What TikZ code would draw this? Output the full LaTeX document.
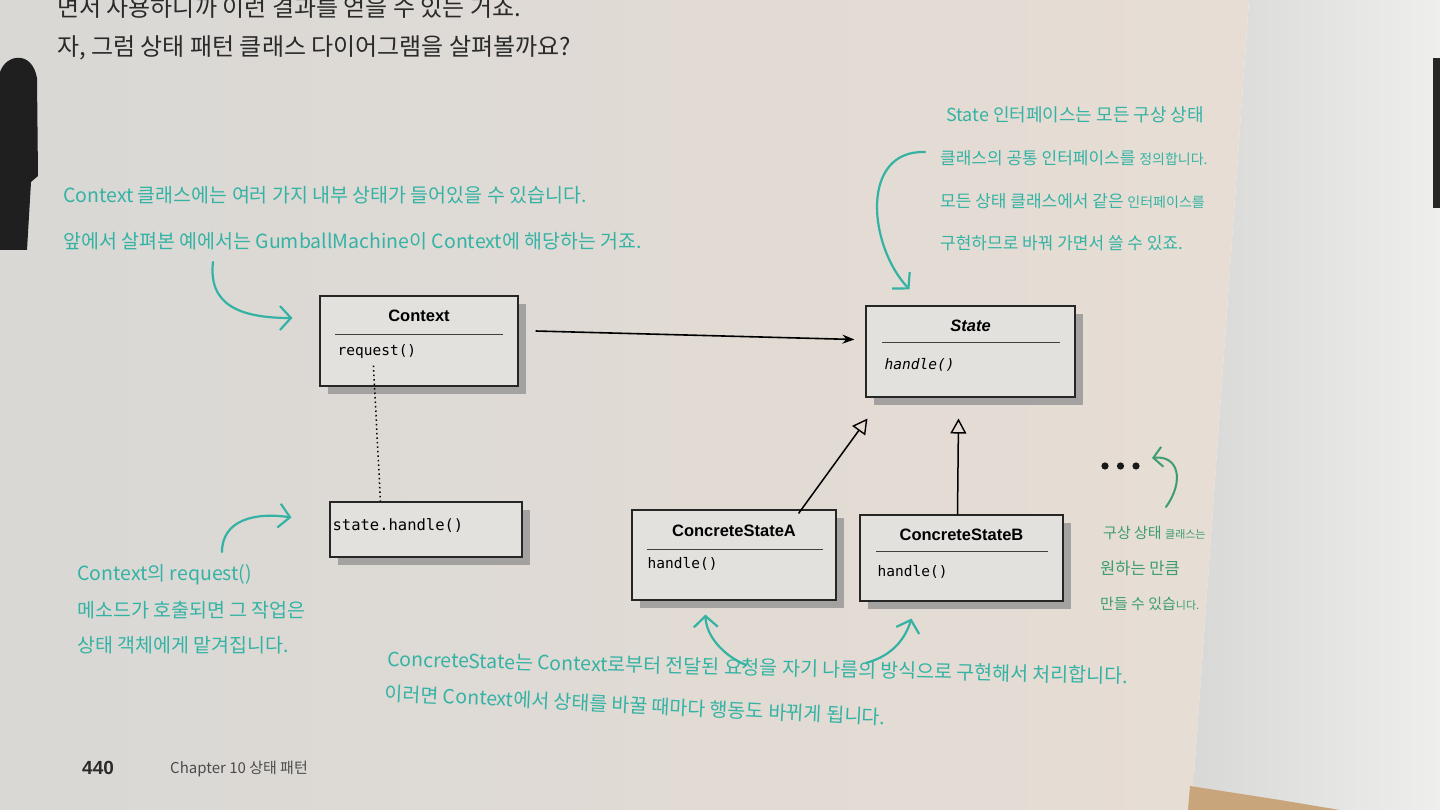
\documentclass[tikz,border=0pt]{standalone}
\usepackage{fontspec}
\setmainfont{Liberation Sans}
\newfontfamily\kr{Noto Sans CJK KR}
\newfontfamily\mono{DejaVu Sans Mono}
\usetikzlibrary{arrows.meta,shadows,calc}

\definecolor{pagegray}{HTML}{D9D8D5}
\definecolor{pagewarm}{HTML}{E7DDD4}
\definecolor{rightpage}{HTML}{EEEEEC}
\definecolor{spine}{HTML}{D8D8D6}
\definecolor{boxfill}{HTML}{E2E1DE}
\definecolor{shadowgray}{HTML}{A3A2A0}
\definecolor{inkteal}{HTML}{34B3A4}
\definecolor{inkgreen}{HTML}{3D9C74}
\definecolor{wood}{HTML}{C9A57C}
\definecolor{textdark}{HTML}{2A2A2A}

\newcommand{\smallhand}[1]{{\fontsize{14}{16}\selectfont #1}}

\tikzset{
  classbox/.style={draw=black!85, line width=1.1pt, fill=boxfill, inner sep=0pt,
    drop shadow={shadow xshift=8pt, shadow yshift=-8pt, fill=shadowgray, opacity=1}},
  classname/.style={font=\bfseries\fontsize{16.5}{18}\selectfont, inner sep=0pt},
  method/.style={font=\mono\fontsize{14.5}{16}\selectfont, anchor=west, inner sep=0pt},
  sepline/.style={draw=black!75, line width=0.8pt},
  assoc/.style={line width=1.6pt, -{Stealth[length=12pt,width=9pt]}},
  inherit/.style={line width=1.5pt, -{Triangle[open,length=15pt,width=16pt,line width=1.4pt]}, fill=boxfill},
  hand/.style={draw=inkteal, line width=2.2pt, line cap=round,
    -{Straight Barb[length=11pt,width=24pt,line width=2.2pt]}},
  note/.style={font=\kr\fontsize{19.5}{22}\selectfont, text=inkteal, anchor=west, inner sep=0pt},
  sidenote/.style={note, font=\kr\fontsize{17}{20}\selectfont},
  cornernote/.style={note, text=inkgreen, font=\kr\fontsize{15}{17}\selectfont},
  body/.style={font=\kr\fontsize{24}{28}\selectfont, text=textdark, anchor=west, inner sep=0pt},
}

\begin{document}
\begin{tikzpicture}[x=1pt,y=-1pt]
\useasboundingbox (0,0) rectangle (1440,810);
\clip (0,0) rectangle (1440,810);

% the open book: left page, right page, table corner
\shade[left color=pagegray, right color=pagewarm]
  (0,0) -- (1249,0) -- (1193,790) -- (1190,810) -- (0,810) -- cycle;
\shade[left color=spine, right color=rightpage]
  (1249,0) -- (1440,0) -- (1440,810) -- (1300,810) -- (1193,790) -- cycle;
\fill[wood] (1190,786) -- (1280,800) -- (1340,810) -- (1188,810) -- cycle;
% marker lying on the page, object at the far edge
\fill[black!88] (0,250) -- (0,72) .. controls (6,54) and (32,50) .. (37,78)
  -- (38,176) -- (31,182) -- (27,250) -- cycle;
\fill[black!85] (1433,58) rectangle (1440,208);

% running text
\node[body] (prev) at (57,8) {면서 사용하니까 이런 결과를 얻을 수 있는 거죠.};
\node[body] (intro) at (57,48) {자, 그럼 상태 패턴 클래스 다이어그램을 살펴볼까요?};

% class boxes
\node[classbox, minimum width=198pt, minimum height=90pt] (ctx) at (419,341) {};
\node[classname] (ctxT) at ($(ctx.north)+(0,20)$) {Context};
\draw[sepline] ($(ctx.north west)+(16,39)$) -- ($(ctx.north east)+(-16,39)$);
\node[method] (ctxM) at ($(ctx.north west)+(18,56)$) {request()};

\node[classbox, minimum width=209pt, minimum height=91pt] (st) at (970.5,351.5) {};
\node[classname, font=\bfseries\itshape\fontsize{16.5}{18}\selectfont] (stT) at ($(st.north)+(0,20)$) {State};
\draw[sepline] ($(st.north west)+(17,37)$) -- ($(st.north east)+(-16,37)$);
\node[method, font=\mono\itshape\fontsize{14.5}{16}\selectfont] (stM) at ($(st.north west)+(19,59)$) {handle()};

\node[classbox, minimum width=192pt, minimum height=55pt] (sh) at (426,529.5) {};
\node[method, font=\mono\fontsize{15.5}{17}\selectfont] (shM) at ($(sh.west)+(3,-4)$) {state.handle()};

\node[classbox, minimum width=204pt, minimum height=90pt] (ca) at (734,555) {};
\node[classname] (caT) at ($(ca.north)+(0,21)$) {ConcreteStateA};
\draw[sepline] ($(ca.north west)+(16,40)$) -- ($(ca.north east)+(-14,40)$);
\node[method] (caM) at ($(ca.north west)+(16,54)$) {handle()};

\node[classbox, minimum width=203pt, minimum height=86pt] (cb) at (961.5,558) {};
\node[classname] (cbT) at ($(cb.north)+(0,20)$) {ConcreteStateB};
\draw[sepline] ($(cb.north west)+(17,37)$) -- ($(cb.north east)+(-16,37)$);
\node[method] (cbM) at ($(cb.north west)+(18,57)$) {handle()};

% relations
\draw[assoc] ($(ctx.east)+(17,-10)$) -- ($(st.west)+(-11,-12)$);
\draw[line width=1.5pt, dash pattern=on 1.5pt off 3pt]
  ($(ctx.south west)+(54,-21)$) -- ($(sh.north west)+(51,0)$);
\draw[inherit] ($(ca.north east)+(-38,4)$) -- ($(st.south west)+(2,21)$);
\draw[inherit] ($(cb.north)+(-4,0)$) -- ($(st.south)+(-12,21)$);

% more concrete states
\foreach \dx [count=\i] in {0,15.5,31}
  \fill[black!90] (1105+\dx,466) circle (3.6) coordinate (dot\i);

% hand-written notes and their arrows
\node[note] (n1a) at (63,195) {Context 클래스에는 여러 가지 내부 상태가 들어있을 수 있습니다.};
\node[note] (n1b) at (63,241) {앞에서 살펴본 예에서는 GumballMachine이 Context에 해당하는 거죠.};
\coordinate (n1s) at (213,262);
\draw[hand] (n1s) .. controls (208,305) and (240,318) .. ($(ctx.west)+(-27,-23)$);

\node[sidenote, font=\kr\fontsize{18}{20}\selectfont] (n2a) at (946,115) {State 인터페이스는 모든 구상 상태};
\node[sidenote] (n2b) at (940,158) {클래스의 공통 인터페이스를 \smallhand{정의합니다.}};
\node[sidenote] (n2c) at (940,201) {모든 상태 클래스에서 같은 \smallhand{인터페이스를}};
\node[sidenote] (n2d) at (940,243) {구현하므로 바꿔 가면서 쓸 수 있죠.};
\coordinate (n2s) at (925,152);
\draw[hand] (n2s) .. controls (860,150) and (868,245) .. ($(st.north west)+(44,-16)$);

\node[note] (n3a) at (77,575) {Context의 request()};
\node[note] (n3b) at (77,610) {메소드가 호출되면 그 작업은};
\node[note] (n3c) at (77,645) {상태 객체에게 맡겨집니다.};
\coordinate (n3s) at (222,552);
\draw[hand] (n3s) .. controls (222,520) and (255,512) .. ($(sh.west)+(-38,-12)$);

\node[cornernote] (n4a) at (1103,533) {구상 상태 {\fontsize{11}{13}\selectfont 클래스는}};
\node[cornernote, font=\kr\fontsize{16.5}{18}\selectfont] (n4b) at (1100,568) {원하는 만큼};
\node[cornernote] (n4c) at (1100,604) {만들 수 있습{\fontsize{11}{12}\selectfont 니다.}};
\coordinate (n4s) at (1166,507);
\draw[hand, draw=inkgreen, -{Straight Barb[length=9pt,width=20pt,line width=2pt]}, line width=2pt]
  (n4s) .. controls (1185,480) and (1178,455) .. ($(dot3)+(16,-8)$);

\node[note, rotate=-1.3] (n5a) at (387,659) {ConcreteState는 Context로부터 전달된 요청을 자기 나름의 방식으로 구현해서 처리합니다.};
\node[note, rotate=-2.8] (n5b) at (385,693) {이러면 Context에서 상태를 바꿀 때마다 행동도 바뀌게 됩니다.};
\coordinate (n5s) at (746,665);
\coordinate (n6s) at (866,663);
\draw[hand] (n5s) .. controls (722,655) and (706,635) .. ($(ca.south west)+(74,14)$);
\draw[hand] (n6s) .. controls (895,655) and (906,636) .. ($(cb.south west)+(52,17)$);

% footer
\node[font=\bfseries\fontsize{19}{22}\selectfont, text=textdark, anchor=west, inner sep=0pt] (pg) at (82,768) {440};
\node[font=\kr\fontsize{15}{18}\selectfont, text=black!70, anchor=west, inner sep=0pt] (chap) at (170,769) {Chapter 10 상태 패턴};
\end{tikzpicture}
\end{document}
